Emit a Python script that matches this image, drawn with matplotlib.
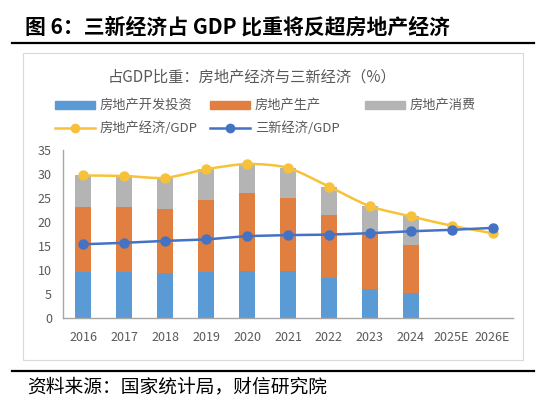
import numpy as np
import matplotlib
matplotlib.use('Agg')
import matplotlib.pyplot as plt
from matplotlib.path import Path
from matplotlib.patches import PathPatch, Rectangle
from matplotlib.lines import Line2D

plt.rcParams['font.family'] = ['Noto Sans CJK SC', 'DejaVu Sans']

# data (% of GDP)
years = ['2016', '2017', '2018', '2019', '2020', '2021', '2022', '2023', '2024', '2025E', '2026E']
invest = [9.7, 9.7, 9.35, 9.55, 9.8, 9.9, 8.4, 6.1, 5.2]
produce = [13.4, 13.4, 13.45, 15.05, 16.2, 15.2, 13.0, 11.4, 10.1]
consume = [6.6, 6.6, 6.4, 6.4, 6.1, 6.2, 6.0, 5.9, 5.9]
realty_gdp = [29.7, 29.6, 29.2, 31.0, 32.1, 31.3, 27.4, 23.3, 21.2, 19.25, 17.7]
newecon_gdp = [15.4, 15.7, 16.1, 16.4, 17.1, 17.3, 17.4, 17.7, 18.1, 18.4, 18.8]

C_BLUE = '#5B9BD5'
C_ORANGE = '#E07F3F'
C_GREY = '#B4B4B4'
C_YELLOW = '#F7C23A'
C_LINE = '#4472C4'
C_TEXT = '#595959'

W, H = 550, 408
fig = plt.figure(figsize=(5.5, 4.08), dpi=100)

def fx(px):
    return px / W

def fy(py):
    return 1 - py / H

# header / footer
fig.text(fx(25), fy(27), '图 6：三新经济占 GDP 比重将反超房地产经济', fontsize=15,
         fontweight='bold', va='center', ha='left', color='black')
fig.add_artist(Line2D([fx(12), fx(534)], [fy(43), fy(43)], color='black', lw=1.6))
fig.add_artist(Line2D([fx(12), fx(534)], [fy(371), fy(371)], color='black', lw=1.6))
fig.text(fx(27), fy(387), '资料来源：国家统计局，财信研究院', fontsize=13.5,
         va='center', ha='left', color='black')

# chart frame
fig.add_artist(Rectangle((fx(23), fy(360)), fx(523) - fx(23), fy(53) - fy(360),
                         transform=fig.transFigure, fill=False, ec='#D9D9D9', lw=0.8))
fig.text(fx(252), fy(77), '占GDP比重：房地产经济与三新经济（%）', fontsize=11,
         color=C_TEXT, ha='center', va='center')

# legend, drawn by hand to follow the Excel layout
def leg_patch(x, y, color, label):
    fig.add_artist(Rectangle((fx(x), fy(y + 3.5)), fx(40), 7 / H,
                             transform=fig.transFigure, color=color))
    fig.text(fx(x + 45), fy(y), label, fontsize=9.5, color=C_TEXT, va='center')

def leg_line(x, y, color, label):
    fig.add_artist(Line2D([fx(x), fx(x + 40)], [fy(y), fy(y)], color=color, lw=1.8))
    fig.add_artist(Line2D([fx(x + 20)], [fy(y)], color=color, marker='o', markersize=6))
    fig.text(fx(x + 45), fy(y), label, fontsize=9.5, color=C_TEXT, va='center')

leg_patch(55, 105, C_BLUE, '房地产开发投资')
leg_patch(210, 105, C_ORANGE, '房地产生产')
leg_patch(365, 105, C_GREY, '房地产消费')
leg_line(55, 128, C_YELLOW, '房地产经济/GDP')
leg_line(210, 128, C_LINE, '三新经济/GDP')

# plot area
ax = fig.add_axes([fx(63), fy(318.3), fx(513) - fx(63), fy(150) - fy(318.3)])
x = np.arange(len(years))
xb = x[:len(invest)]
bw = 0.39
ax.bar(xb, invest, bw, color=C_BLUE, zorder=2)
ax.bar(xb, produce, bw, bottom=invest, color=C_ORANGE, zorder=2)
ax.bar(xb, consume, bw, bottom=np.add(invest, produce), color=C_GREY, zorder=2)

def smooth_path(xs, ys):
    # Excel-style smoothed line through the points (cubic Bezier segments)
    pts = np.column_stack([xs, ys]).astype(float)
    n = len(pts)
    verts = [pts[0]]
    codes = [Path.MOVETO]
    for i in range(n - 1):
        p0 = pts[i - 1] if i > 0 else pts[i]
        p1 = pts[i]
        p2 = pts[i + 1]
        p3 = pts[i + 2] if i + 2 < n else pts[i + 1]
        verts += [p1 + (p2 - p0) / 8, p2 - (p3 - p1) / 8, p2]
        codes += [Path.CURVE4] * 3
    return Path(verts, codes)

ax.add_patch(PathPatch(smooth_path(x, realty_gdp), fill=False, ec=C_YELLOW, lw=1.8, zorder=3))
ax.plot(x, realty_gdp, 'o', color=C_YELLOW, markersize=6.5, zorder=4)
ax.plot(x, newecon_gdp, '-o', color=C_LINE, lw=1.8, markersize=6.5, zorder=5)

ax.set_xlim(-0.5, len(years) - 0.5)
ax.set_ylim(0, 35)
ax.set_yticks(range(0, 36, 5))
ax.set_xticks(x)
ax.set_xticklabels(years)
ax.tick_params(axis='both', colors=C_TEXT, labelsize=9, length=0)
ax.tick_params(axis='x', pad=9)
ax.tick_params(axis='y', pad=8)
for s in ['top', 'right']:
    ax.spines[s].set_visible(False)
for s in ['left', 'bottom']:
    ax.spines[s].set_color('#A6A6A6')
    ax.spines[s].set_linewidth(1)

fig.savefig('out.png', dpi=100)
